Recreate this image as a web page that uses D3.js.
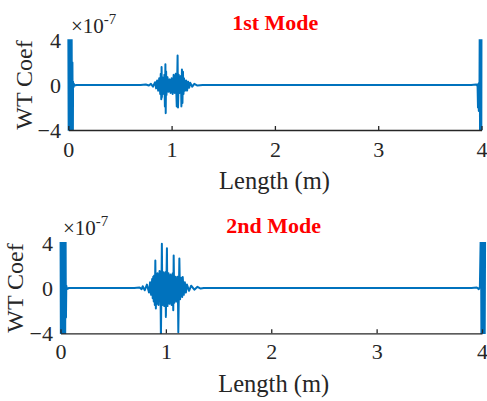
<!DOCTYPE html>
<html><head><meta charset="utf-8">
<script src="https://cdn.jsdelivr.net/npm/d3@7"></script>
<style>body{margin:0;background:#fff} svg{display:block}</style>
</head><body><svg id="c" width="487" height="401"></svg>
<script>
// ---------- data (values in units of 1e-7) ----------
const xTickVals = [0, 1, 2, 3, 4];
const yTickVals = [-4, 0, 4];
const titles = ["1st Mode", "2nd Mode"];
const xLabel = "Length (m)";
const yLabel = "WT Coef";
const expBase = "\u00D710";
const expPow = "-7";

const mode1X = [0, 0.004, 0.008, 0.012, 0.016, 0.02, 0.024, 0.028, 0.032, 0.036, 0.04, 0.044, 0.046, 0.05, 0.055, 0.06, 0.08, 0.2,
  0.7, 0.75, 0.78, 0.8, 0.82, 0.84, 0.85, 0.86, 0.87, 0.88, 0.89, 0.895, 0.9, 0.903, 0.906, 0.91, 0.915, 0.92, 0.925, 0.93, 0.935, 0.94, 0.943, 0.947, 0.95, 0.96, 0.97, 0.98, 0.99, 1.0, 1.01, 1.02, 1.03, 1.04, 1.05, 1.058, 1.062, 1.07, 1.08, 1.09, 1.095, 1.1, 1.105, 1.11, 1.115, 1.12, 1.13, 1.14, 1.15, 1.16, 1.17, 1.18, 1.2, 1.22, 1.25, 1.3,
  3.9, 3.95, 3.962, 3.966, 3.97, 3.974, 3.977, 3.98, 3.983, 3.986, 3.989, 3.992, 3.995, 3.998, 4.0];
const mode1Y = [6, -6, 6, -6, 6, -6, 6, -6, 6, -6, 2.0, -6, 0.3, -0.2, 0.1, -0.05, 0, 0,
  0, 0.05, -0.05, 0.1, -0.15, 0.25, -0.3, 0.4, -0.5, 0.6, -0.8, 1.0, -1.26, 1.6, -1.1, 0.7, -0.6, 0.6, -0.8, 0.9, -1.9, 1.84, -2.5, 1.2, -0.9, 0.7, -0.6, 0.5, -0.7, 0.6, -0.8, 0.9, -0.7, 1.0, -1.9, 2.63, -2.0, 0.9, -0.7, 0.8, -1.9, 1.38, -1.6, 1.17, -0.8, 0.6, -0.5, 0.4, -0.5, 0.3, -0.25, 0.2, -0.15, 0.1, -0.05, 0,
  0, 0.05, -0.1, -2.0, 0.1, -2.3, 0.2, -1.5, 6, -6, 6, -6, 6, -6, 6];

const mode2X = [0, 0.004, 0.008, 0.012, 0.016, 0.02, 0.024, 0.028, 0.032, 0.036, 0.04, 0.044, 0.048, 0.05, 0.052, 0.055, 0.06, 0.08, 0.2,
  0.7, 0.75, 0.77, 0.78, 0.8, 0.82, 0.84, 0.85, 0.86, 0.87, 0.875, 0.88, 0.885, 0.89, 0.895, 0.9, 0.905, 0.91, 0.915, 0.92, 0.93, 0.94, 0.95, 0.953, 0.962, 0.967, 0.975, 0.985, 0.995, 1.0, 1.01, 1.015, 1.025, 1.035, 1.045, 1.055, 1.065, 1.07, 1.074, 1.08, 1.09, 1.1, 1.11, 1.115, 1.118, 1.128, 1.135, 1.145, 1.155, 1.16, 1.17, 1.18, 1.19, 1.2, 1.22, 1.24, 1.27, 1.3, 1.33, 1.36,
  3.9, 3.95, 3.97, 3.98, 3.99, 3.995, 4.0, 4.005, 4.01, 4.015, 4.02, 4.025, 4.03];
const mode2Y = [6, -6, 6, -6, 6, -6, 6, -6, 6, -6, 6, -6, 6, 0.3, -2.6, 0.2, -0.1, 0, 0,
  0, 0.05, -0.1, 0.15, -0.2, 0.3, -0.4, 0.5, -0.6, 0.8, -0.9, 1.0, -1.2, 1.1, -1.5, 2.43, -1.8, 1.2, -1.4, 1.3, -1.5, 1.5, -1.2, -4.5, 3.9, -1.5, 1.4, -1.6, 1.4, -2.55, 3.5, -1.6, 1.3, -1.4, 1.2, -1.5, 1.3, -1.96, 2.87, -1.3, 1.0, -1.2, 1.0, -1.1, -3.9, 2.6, -1.0, 0.9, -0.8, 0.97, -0.6, 0.5, -0.4, 0.3, -0.25, 0.2, -0.15, 0.1, -0.05, 0,
  0, 0.05, -0.1, 0.1, 6, -6, 6, -6, 6, -6, 6, -6, 6];

// ---------- layout ----------
const FONT = "'Liberation Serif','Times New Roman',serif";
const BLUE = "#0072BD", AX = "#262626";
const layout = [
  {left: 68.3, right: 481.5, top: 40, bottom: 130, titleX: 275.3, titleY: 30, xTickY: 157, xLabelX: 274.5, xLabelY: 189, yTickRight: 61, yLabelX: 31.7, expX: 71, expY: 33},
  {left: 60.5, right: 482, top: 242.7, bottom: 333.3, titleX: 273.7, titleY: 232.7, xTickY: 359, xLabelX: 273.7, xLabelY: 391.7, yTickRight: 53, yLabelX: 23.3, expX: 63, expY: 235}
];
const series = [[mode1X, mode1Y], [mode2X, mode2Y]];

const svg = d3.select("#c");

layout.forEach((L, i) => {
  const x = d3.scaleLinear().domain([0, 4]).range([L.left, L.right]);
  const y = d3.scaleLinear().domain([-4, 4]).range([L.bottom, L.top]);
  const g = svg.append("g");

  g.append("clipPath").attr("id", "clip" + i)
    .append("rect")
    .attr("x", L.left - 10).attr("y", L.top - 0.8)
    .attr("width", L.right - L.left + 20).attr("height", L.bottom - L.top + 1.6);

  const pts = d3.zip(series[i][0], series[i][1]);
  g.append("path")
    .attr("clip-path", `url(#clip${i})`)
    .attr("d", d3.line().x(d => x(d[0])).y(d => y(d[1]))(pts))
    .attr("fill", "none").attr("stroke", BLUE).attr("stroke-width", 2)
    .attr("stroke-linejoin", "round");

  // x axis
  const xa = g.append("g").attr("transform", `translate(0,${L.bottom})`)
    .call(d3.axisBottom(x).tickValues(xTickVals).tickSizeInner(-4).tickSizeOuter(0).tickFormat(d3.format("d")));
  xa.select(".domain").attr("stroke", AX).attr("stroke-width", 1.3);
  xa.selectAll(".tick line").attr("stroke", AX).attr("stroke-width", 1.3);
  xa.selectAll(".tick text").attr("y", L.xTickY - L.bottom).attr("dy", 0)
    .attr("fill", AX).style("font-family", FONT).style("font-size", "22px");

  // y axis
  const ya = g.append("g").attr("transform", `translate(${L.left},0)`)
    .call(d3.axisLeft(y).tickValues(yTickVals).tickSizeInner(0).tickSizeOuter(0).tickFormat(d3.format("d")));
  ya.select(".domain").attr("stroke", "none");
  ya.selectAll(".tick text").attr("x", L.yTickRight - L.left).attr("dy", "0.34em")
    .attr("fill", AX).style("font-family", FONT).style("font-size", "22px");

  // labels
  g.append("text").attr("x", L.xLabelX).attr("y", L.xLabelY).attr("text-anchor", "middle")
    .attr("fill", AX).style("font-family", FONT).style("font-size", "24.5px").text(xLabel);
  g.append("text").attr("transform", `translate(${L.yLabelX},${(L.top + L.bottom) / 2}) rotate(-90)`)
    .attr("text-anchor", "middle")
    .attr("fill", AX).style("font-family", FONT).style("font-size", "24px").text(yLabel);
  g.append("text").attr("x", L.titleX).attr("y", L.titleY).attr("text-anchor", "middle")
    .attr("fill", "#FF0000").style("font-family", FONT).style("font-size", "22px").style("font-weight", "bold")
    .text(titles[i]);
  const ex = g.append("text").attr("x", L.expX).attr("y", L.expY)
    .attr("fill", AX).style("font-family", FONT).style("font-size", "21px");
  ex.append("tspan").text(expBase);
  ex.append("tspan").attr("dy", -9).style("font-size", "15px").text(expPow);
});
</script></body></html>
